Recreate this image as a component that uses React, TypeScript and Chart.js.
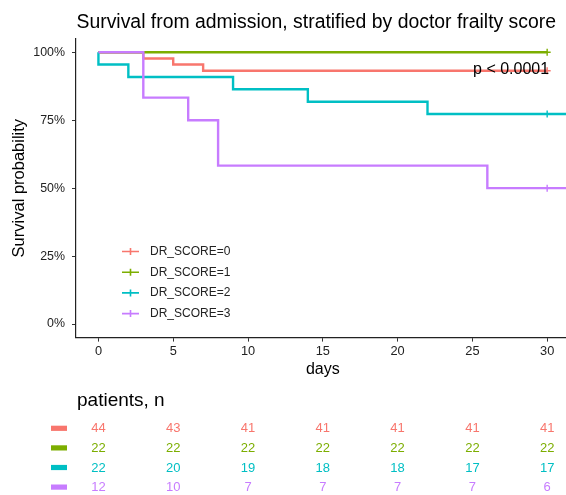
import React, { useEffect, useRef } from "react";
import { Chart, registerables } from "chart.js";

Chart.register(...registerables);

const titleText = "Survival from admission, stratified by doctor frailty score";
const xTitle = "days";
const yTitle = "Survival probability";
const pValueText = "p < 0.0001";
const tableTitle = "patients, n";

const groupLabels = ["DR_SCORE=0", "DR_SCORE=1", "DR_SCORE=2", "DR_SCORE=3"];
const groupColors = ["#F8766D", "#7CAE00", "#00BFC4", "#C77CFF"];

// Kaplan-Meier step points (time, survival)
const times0 = [0, 3, 5, 7, 30];
const surv0 = [1, 0.977, 0.955, 0.932, 0.932];
const times1 = [0, 30];
const surv1 = [1, 1];
const times2 = [0, 0, 2, 9, 14, 22, 32];
const surv2 = [1, 0.955, 0.909, 0.864, 0.818, 0.773, 0.773];
const times3 = [0, 3, 6, 8, 26, 32];
const surv3 = [1, 0.833, 0.75, 0.583, 0.5, 0.5];

const censor0 = [30];
const censor1 = [30];
const censor2 = [30];
const censor3 = [30];

const xTicks = [0, 5, 10, 15, 20, 25, 30];
const yTicks = [0, 0.25, 0.5, 0.75, 1];

// number at risk
const riskTimes = [0, 5, 10, 15, 20, 25, 30];
const risk0 = [44, 43, 41, 41, 41, 41, 41];
const risk1 = [22, 22, 22, 22, 22, 22, 22];
const risk2 = [22, 20, 19, 18, 18, 17, 17];
const risk3 = [12, 10, 7, 7, 7, 7, 6];

const pValueX = 30;
const pValueY = 0.92;

const FONT = '"Liberation Sans", Arial, sans-serif';

const allTimes = [times0, times1, times2, times3];
const allSurv = [surv0, surv1, surv2, surv3];
const allCensor = [censor0, censor1, censor2, censor3];
const allRisk = [risk0, risk1, risk2, risk3];

function survAt(times: number[], surv: number[], t: number) {
  let s = surv[0];
  for (let i = 0; i < times.length; i++) if (times[i] <= t) s = surv[i];
  return s;
}

const overlayPlugin = {
  id: "overlay",
  afterDraw(chart: any) {
    const ctx = chart.ctx as CanvasRenderingContext2D;
    const xs = chart.scales.x;
    const ys = chart.scales.y;
    const area = chart.chartArea;
    ctx.save();
    // title
    ctx.fillStyle = "#000";
    ctx.textAlign = "left";
    ctx.textBaseline = "alphabetic";
    ctx.font = `19.4px ${FONT}`;
    ctx.fillText(titleText, area.left + 0.5, 28.3);

    // p-value
    ctx.font = `16px ${FONT}`;
    ctx.textAlign = "right";
    ctx.fillText(pValueText, xs.getPixelForValue(pValueX) + 2, ys.getPixelForValue(pValueY));

    // legend inside plot
    ctx.font = `12px ${FONT}`;
    ctx.textAlign = "left";
    ctx.textBaseline = "middle";
    groupLabels.forEach((lab, i) => {
      const cy = 251.5 + i * 20.7;
      ctx.strokeStyle = groupColors[i];
      ctx.lineWidth = 1.6;
      ctx.beginPath();
      ctx.moveTo(122, cy);
      ctx.lineTo(139, cy);
      ctx.moveTo(130.5, cy - 3.5);
      ctx.lineTo(130.5, cy + 3.5);
      ctx.stroke();
      ctx.fillStyle = "#222";
      ctx.fillText(lab, 150, cy);
    });

    // risk table
    ctx.fillStyle = "#000";
    ctx.font = `19px ${FONT}`;
    ctx.textBaseline = "alphabetic";
    ctx.fillText(tableTitle, 77, 405.5);
    ctx.font = `13px ${FONT}`;
    ctx.textAlign = "center";
    ctx.textBaseline = "middle";
    allRisk.forEach((row, i) => {
      const cy = 428.3 + i * 19.6;
      ctx.fillStyle = groupColors[i];
      ctx.fillRect(51, cy - 2.6, 16, 5.2);
      row.forEach((n, j) => {
        ctx.fillText(String(n), xs.getPixelForValue(riskTimes[j]), cy + 0.5);
      });
    });
    ctx.restore();
  },
};

export default function App() {
  const ref = useRef<HTMLCanvasElement>(null);
  useEffect(() => {
    const lineSets = allTimes.map((ts, i) => ({
      type: "line" as const,
      label: groupLabels[i],
      data: ts.map((t, k) => ({ x: t, y: allSurv[i][k] })),
      borderColor: groupColors[i],
      backgroundColor: groupColors[i],
      borderWidth: 2.4,
      pointRadius: 0,
      stepped: "before" as const,
      fill: false,
      order: 10 - i,
    }));
    const censorSets = allCensor.map((cs, i) => ({
      type: "scatter" as const,
      label: groupLabels[i] + " censor",
      data: cs.map((t) => ({ x: t, y: survAt(allTimes[i], allSurv[i], t) })),
      borderColor: groupColors[i],
      backgroundColor: groupColors[i],
      pointStyle: "cross" as const,
      pointRadius: 3.5,
      borderWidth: 1.4,
      showLine: false,
      order: 0,
    }));
    const xHeight = 41.5;
    const chart = new Chart(ref.current!, {
      type: "line",
      data: { datasets: [...lineSets, ...censorSets] as any },
      options: {
        responsive: false,
        animation: false,
        devicePixelRatio: 1,
        layout: { padding: { top: 38.7, left: 0, right: 0, bottom: 495 - 337.6 - xHeight } },
        plugins: { legend: { display: false }, title: { display: false }, tooltip: { enabled: false } },
        scales: {
          x: {
            type: "linear",
            min: -1.5,
            max: 31.5,
            afterBuildTicks: (s: any) => {
              s.ticks = xTicks.map((v) => ({ value: v }));
            },
            afterFit: (s: any) => {
              s.height = xHeight;
            },
            grid: { display: true, drawOnChartArea: false, drawTicks: true, tickLength: 4, color: "#333", lineWidth: 1 },
            border: { display: true, color: "#222", width: 1.2 },
            ticks: { color: "#222", font: { family: FONT, size: 12.8 }, padding: 2, maxRotation: 0, autoSkip: false },
            title: { display: true, text: xTitle, color: "#000", font: { family: FONT, size: 16 }, padding: { top: 0, bottom: 0 } },
          },
          y: {
            type: "linear",
            min: -0.05,
            max: 1.05,
            afterBuildTicks: (s: any) => {
              s.ticks = yTicks.map((v) => ({ value: v }));
            },
            afterFit: (s: any) => {
              s.width = 76;
            },
            grid: { display: true, drawOnChartArea: false, drawTicks: true, tickLength: 4, color: "#333", lineWidth: 1 },
            border: { display: true, color: "#222", width: 1.2 },
            ticks: {
              color: "#222",
              font: { family: FONT, size: 12.4 },
              padding: 7,
              callback: (v: any) => `${Math.round(Number(v) * 100)}%`,
            },
            title: { display: true, text: yTitle, color: "#000", font: { family: FONT, size: 16.5 }, padding: { top: 10, bottom: 0 } },
          },
        },
      },
      plugins: [overlayPlugin],
    } as any);
    return () => chart.destroy();
  }, []);
  return (
    <div style={{ position: "fixed", left: 0, top: 0, width: 566, height: 495, overflow: "hidden", background: "#fff" }}>
      <canvas ref={ref} width={575} height={495} style={{ display: "block", width: 575, height: 495 }} />
    </div>
  );
}
